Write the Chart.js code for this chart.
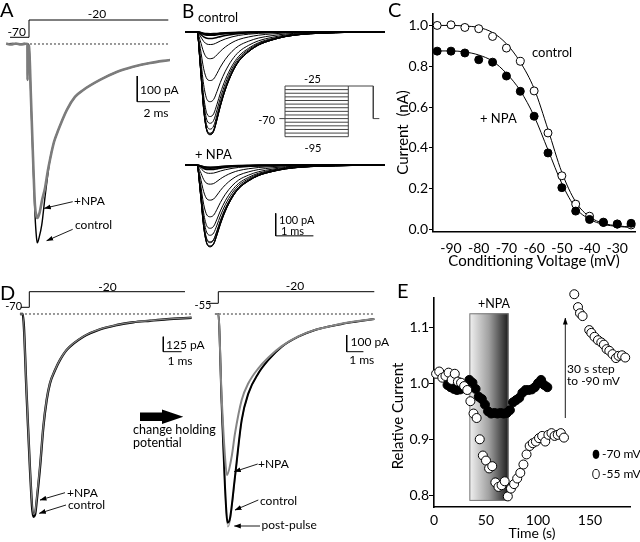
<!DOCTYPE html>
<html><head><meta charset="utf-8">
<script src="https://cdn.jsdelivr.net/npm/chart.js@4.4.1/dist/chart.umd.min.js"></script>
<style>
html,body{margin:0;padding:0;background:#fff;}
#wrap{position:relative;width:640px;height:542px;overflow:hidden;background:#fff;}
#wrap canvas{position:absolute;}
#ann{position:absolute;left:0;top:0;pointer-events:none;}
</style></head><body><div id="wrap"></div>
<script>
const FONT = "Lato, 'Open Sans', sans-serif";

// ---------- Panel A : single current traces (ms, pA) ----------
const A_CTRL_T = [-1.35,-1.0,-0.6,-0.3,-0.06,0,0.12,0.245,0.367,0.46,0.51,0.61,0.78,0.98,1.28,1.53,1.79,2.31,2.81,3.32,4.34,5.36,6.36,7.40,8.62];
const A_CTRL_I = [0,2,-1,2,0,-8,-218,-451,-665,-755,-774,-755,-704,-595,-451,-381,-335,-257,-206,-179,-140,-109,-89,-74,-62];
const A_NPA_T = [-1.4,-1.1,-0.8,-0.5,-0.2,-0.1,-0.09,-0.08,0,0.12,0.245,0.367,0.46,0.51,0.64,0.80,0.98,1.16,1.28,1.53,1.79,2.31,2.81,3.32,4.34,5.36,6.36,7.40,8.62];
const A_NPA_I = [2,-2,2,-2,1,0,-140,-5,-8,-210,-440,-630,-670,-677,-658,-607,-560,-490,-451,-381,-335,-257,-206,-179,-140,-109,-89,-74,-62];
const A_PROTO_T = [-1.16,0,0,8.52];
const A_PROTO_V = [-70,-70,-20,-20];

// ---------- Panel B : trace families (ms, pA) ----------
const B_T = [-0.32,0,0.088,0.177,0.265,0.354,0.442,0.531,0.619,0.752,0.929,1.106,1.372,1.637,1.991,2.345,2.788,3.23,3.673,4.469,4.99];
const B_SHAPE = [0,0,0.339,0.758,0.968,1.0,0.968,0.855,0.726,0.565,0.403,0.29,0.194,0.129,0.081,0.048,0.026,0.016,0.01,0.003,0];
const B_CTRL_PEAK = [458,457,453,451,433,407,377,311,217,120,57,30,16,12,9];
const B_NPA_PEAK = [363,363,359,345,341,312,281,230,156,85,37,20,14,11,10];
const B_COND_V = [-95,-90,-85,-80,-75,-70,-65,-60,-55,-50,-45,-40,-35,-30,-25];
const B_HOLD_V = -70, B_TEST_V = -25;
const B_PROTO_T = [-2.7,0,30,41.85,44.7];

// ---------- Panel C : inactivation curves ----------
const C_V = [-95,-90,-85,-80,-75,-70,-65,-60,-55,-50,-45,-40,-35,-30,-25];
const C_CTRL = [1.0,1.003,0.99,0.984,0.946,0.889,0.824,0.679,0.473,0.263,0.124,0.065,0.036,0.027,0.022];
const C_NPA = [0.874,0.874,0.865,0.832,0.82,0.752,0.677,0.555,0.375,0.205,0.09,0.049,0.034,0.026,0.03];
const C_CTRL_FIT = [1.0,1.0,0.997,0.99,0.965,0.91,0.82,0.69,0.49,0.28,0.135,0.062,0.03,0.018,0.012];
const C_NPA_FIT = [0.875,0.875,0.87,0.855,0.825,0.765,0.68,0.555,0.39,0.225,0.105,0.05,0.025,0.015,0.01];
const C_XTICKS = [-90,-80,-70,-60,-50,-40,-30];
const C_YTICKS = [0,0.2,0.4,0.6,0.8,1.0];

// ---------- Panel D : holding potential traces (ms, pA) ----------
const D1_T = [-0.15,0,0.22,0.40,0.58,0.67,0.77,0.95,1.13,1.31,1.49,1.77,2.04,2.40,3.31,4.22,5.14,6.04,6.96,7.87,9.23];
const D1_CTRL = [0,0,-689,-1300,-1689,-1675,-1550,-1272,-939,-717,-578,-467,-383,-300,-189,-128,-92,-69,-56,-44,-31];
const D1_NPA = [0,0,-680,-1290,-1670,-1655,-1530,-1255,-930,-712,-575,-465,-380,-298,-187,-127,-91,-68,-55,-43,-30];
const D1_PROTO_T = [-0.109,0.361,0.361,8.869];
const D1_PROTO_V = [-70,-70,-20,-20];
const D2_T = [-0.2,0,0.2,0.4,0.56,0.7,1.0,1.4,1.8,2.4,3.0,3.8,4.79,5.79,6.79,7.78,9.34];
const D2_CTRL = [0,0,-535,-1034,-1250,-1224,-974,-635,-475,-355,-275,-196,-136,-96,-72,-52,-30];
const D2_POST = [0,0,-540,-1045,-1274,-1240,-985,-640,-478,-357,-276,-197,-136,-96,-72,-52,-30];
const D2_NPA_T = [-0.2,0,0.2,0.4,0.52,0.8,1.0,1.4,1.8,2.4,3.0,3.8,4.79,5.79,6.79,7.78,9.34];
const D2_NPA = [0,0,-495,-854,-964,-854,-715,-515,-415,-325,-260,-192,-134,-95,-71,-51,-30];
const D2_PROTO_T = [-0.599,0,0,9.341];
const D2_PROTO_V = [-55,-55,-20,-20];

// ---------- Panel E : time course ----------
const E_M55_T = [2,5,8,11,14,17,20,23,26,29,32,35,38,41,44,47,50,53,56,59,62,65,68,71,74,77,80,83,86,89,92,95,98,101,104,107,110,113,116,119,122,125,
  134.9,138.5,140.4,142.9,149.3,151.3,154.4,157.7,160.9,163.4,166,168.6,171.7,175,177.5,180.8,183.9];
const E_M55_V = [1.017,1.021,1.010,1.013,1.019,1.006,1.017,1.003,1.001,0.995,0.988,0.968,0.946,0.938,0.900,0.871,0.862,0.848,0.852,0.823,0.815,0.818,0.825,0.798,0.812,0.820,0.830,0.840,0.855,0.873,0.888,0.893,0.896,0.902,0.906,0.896,0.908,0.911,0.906,0.908,0.911,0.903,
  1.159,1.136,1.125,1.120,1.095,1.090,1.083,1.077,1.073,1.069,1.061,1.058,1.052,1.045,1.049,1.050,1.046];
const E_M70_T = [13,16,19,22,25,28,31,34,37,40,43,46,49,52,55,58,61,64,67,70,73,76,79,82,85,88,91,94,97,100,103,106,109];
const E_M70_V = [0.997,0.993,0.990,0.988,0.989,0.991,0.996,1.006,1.001,0.990,0.976,0.972,0.962,0.950,0.946,0.947,0.946,0.947,0.946,0.947,0.952,0.966,0.970,0.974,0.983,0.988,0.988,0.989,0.993,1.000,1.006,0.997,0.993];
const E_NPA_START = 34, E_NPA_END = 71.7, E_NPA_TOP = 1.125, E_NPA_BOTTOM = 0.79;
const E_XTICKS = [0,50,100,150];
const E_YTICKS = [0.8,0.9,1.0,1.1];

// ---------- helpers ----------
Chart.defaults.font.family = FONT;
Chart.defaults.color = '#000';
const wrap = document.getElementById('wrap');
function mk(left, top, w, h){
  const c = document.createElement('canvas');
  c.width = w; c.height = h;
  c.style.left = left+'px'; c.style.top = top+'px';
  c.style.width = w+'px'; c.style.height = h+'px';
  wrap.appendChild(c);
  return c;
}
function pts(xs, ys){ return xs.map((x,i)=>({x:x, y:ys[i]})); }
function line(data, color, width, extra){
  return Object.assign({data:data, borderColor:color, borderWidth:width, pointRadius:0, fill:false,
    cubicInterpolationMode:'monotone', clip:false}, extra||{});
}
function hidden(box, xr, ys, datasets){
  const scales = {x:{type:'linear', display:false, min:xr[0], max:xr[1]}};
  for (const k in ys) scales[k] = {type:'linear', display:false, min:ys[k][0], max:ys[k][1]};
  return new Chart(mk(box[0],box[1],box[2],box[3]), {type:'line', data:{datasets:datasets},
    options:{animation:false, responsive:false, devicePixelRatio:1, layout:{padding:0},
      plugins:{legend:{display:false}, tooltip:{enabled:false}}, scales:scales}});
}
const DOT = {borderDash:[2,2]};
const SP = '\u00a0';

// ---------- Panel A ----------
hidden([0,0,185,260], [-1.774,9.541], {y:[-840.5,171.2], yv:[-713.6,37.8]}, [
  line(pts(A_NPA_T, A_NPA_I), '#7c7c7c', 2.6, {order:1}),
  line(pts(A_CTRL_T, A_CTRL_I), '#000', 1.4, {order:2}),
  line(pts([0.06,8.62],[0,0]), '#333', 1, Object.assign({order:3}, DOT)),
  line(pts([6.62,6.62,8.62],[-124.5,-224.5,-224.5]), '#000', 1, {cubicInterpolationMode:'default', tension:0}),
  line(pts(A_PROTO_T, A_PROTO_V), '#000', 1, {yAxisID:'yv', cubicInterpolationMode:'default', tension:0})
]);

// ---------- Panel B ----------
const bCtrl = B_CTRL_PEAK.map((p,i) => line(pts(B_T, B_SHAPE.map(s => -s*p)), '#000', i > 10 ? 1.6 : 1));
hidden([185,20,200,130], [-0.318,4.987], {y:[-525.8,52]}, bCtrl);
const bNpa = B_NPA_PEAK.map((p,i) => line(pts(B_T, B_SHAPE.map(s => -s*p)), '#000', i > 10 ? 1.6 : 1));
bNpa.push(line(pts([2.088,2.088,3.088],[-214.7,-314.7,-314.7]), '#000', 1, {cubicInterpolationMode:'default'}));
hidden([185,150,200,110], [-0.318,4.987], {y:[-422,66.7]}, bNpa);
// protocol inset
const inset = B_COND_V.map(v => line(pts([B_PROTO_T[1],B_PROTO_T[2]],[v,v]), '#444', 1, {cubicInterpolationMode:'default'}));
const vMin = Math.min(...B_COND_V), vMax = Math.max(...B_COND_V);
inset.push(line(pts([B_PROTO_T[1],B_PROTO_T[1]],[vMin,vMax]), '#444', 1, {cubicInterpolationMode:'default'}));
inset.push(line(pts([B_PROTO_T[2],B_PROTO_T[2]],[vMin,vMax]), '#444', 1, {cubicInterpolationMode:'default'}));
inset.push(line(pts([B_PROTO_T[0],B_PROTO_T[1]],[B_HOLD_V,B_HOLD_V]), '#444', 1, {cubicInterpolationMode:'default'}));
inset.push(line(pts([B_PROTO_T[2],B_PROTO_T[3],B_PROTO_T[3],B_PROTO_T[4]],[B_TEST_V,B_TEST_V,B_HOLD_V,B_HOLD_V]), '#444', 1, {cubicInterpolationMode:'default'}));
hidden([265,70,120,80], [-9.479,47.39], {y:[-113.36,-2.91]}, inset);

// ---------- Panel C ----------
new Chart(mk(360,0,280,270), {
  type:'line',
  data:{datasets:[
    line(pts(C_V, C_CTRL_FIT), '#000', 1, {order:4}),
    line(pts(C_V, C_NPA_FIT), '#000', 1, {order:3}),
    {data:pts(C_V, C_CTRL), showLine:false, pointRadius:4, pointBackgroundColor:'#fff', pointBorderColor:'#000', pointBorderWidth:1, order:2, clip:false},
    {data:pts(C_V, C_NPA), showLine:false, pointRadius:4, pointBackgroundColor:'#000', pointBorderColor:'#000', pointBorderWidth:1, order:1, clip:false}
  ]},
  options:{animation:false, responsive:false, devicePixelRatio:1,
    layout:{padding:{top:14,left:0,right:0,bottom:0}},
    plugins:{legend:{display:false}, tooltip:{enabled:false}},
    scales:{
      x:{type:'linear', min:-96.5, max:-23.6,
        afterBuildTicks:s=>{s.ticks = C_XTICKS.map(v=>({value:v}));},
        afterFit:s=>{s.height = 38.3;},
        grid:{display:false, drawTicks:false}, border:{color:'#000', width:1.6},
        ticks:{font:{size:14}, padding:8, maxRotation:0},
        title:{display:true, text:'Conditioning Voltage (mV)', font:{size:15}, padding:{top:0,bottom:0}}},
      y:{type:'linear', min:-0.011, max:1.056,
        afterBuildTicks:s=>{s.ticks = C_YTICKS.map(v=>({value:v}));},
        afterFit:s=>{s.width = 73;},
        grid:{drawOnChartArea:false, tickLength:4, color:'#000'}, border:{color:'#000', width:1.6},
        ticks:{font:{size:14}, padding:1, callback:v=>v.toFixed(1)},
        title:{display:true, text:'Current' + SP + SP + '(nA)' + SP.repeat(5), font:{size:15}, padding:{top:34,bottom:0}}}
    }}
});

// ---------- Panel D ----------
hidden([0,280,200,262], [-1.240,9.689], {y:[-1900,283.3], yv:[-822.2,17.5]}, [
  line(pts(D1_T, D1_NPA), '#808080', 1.3, {order:1}),
  line(pts(D1_T, D1_CTRL), '#000', 2.4, {order:2}),
  line(pts([-0.093,9.235],[0,0]), '#333', 1, Object.assign({order:3}, DOT)),
  line(pts([7.683,7.683,8.683],[-189.2,-314.2,-314.2]), '#000', 1, {cubicInterpolationMode:'default'}),
  line(pts(D1_PROTO_T, D1_PROTO_V), '#000', 1, {yAxisID:'yv', cubicInterpolationMode:'default'})
]);
hidden([200,280,185,262], [-1.096,9.982], {y:[-1365.3,203.6], yv:[-775.3,15.3]}, [
  line(pts(D2_NPA_T, D2_NPA), '#858585', 2, {order:1}),
  line(pts(D2_T, D2_CTRL), '#000', 2, {order:2}),
  line(pts(D2_T, D2_POST), '#9a9a9a', 1.3, {order:3}),
  line(pts([-0.2,9.34],[0,0]), '#333', 1, Object.assign({order:4}, DOT)),
  line(pts([7.689,7.689,8.689],[-125.7,-225.7,-225.7]), '#000', 1, {cubicInterpolationMode:'default'}),
  line(pts(D2_PROTO_T, D2_PROTO_V), '#000', 1, {yAxisID:'yv', cubicInterpolationMode:'default'})
]);

// ---------- Panel E ----------
const npaBox = {id:'npaBox', beforeDatasetsDraw(chart){
  const {ctx, scales:{x, y}} = chart;
  const x0 = x.getPixelForValue(E_NPA_START), x1 = x.getPixelForValue(E_NPA_END);
  const y0 = y.getPixelForValue(E_NPA_TOP), y1 = y.getPixelForValue(E_NPA_BOTTOM);
  const g = ctx.createLinearGradient(x0,0,x1,0);
  g.addColorStop(0,'#f2f2f2'); g.addColorStop(0.5,'#a0a0a0'); g.addColorStop(1,'#1c1c1c');
  ctx.save(); ctx.fillStyle = g; ctx.fillRect(x0,y0,x1-x0,y1-y0);
  ctx.strokeStyle = '#777'; ctx.lineWidth = 1; ctx.strokeRect(x0+0.5,y0+0.5,x1-x0-1,y1-y0-1); ctx.restore();
}};
new Chart(mk(380,275,260,267), {
  type:'line',
  data:{datasets:[
    {data:pts(E_M55_T, E_M55_V), showLine:false, pointRadius:4.5, pointBackgroundColor:'#fff', pointBorderColor:'#000', pointBorderWidth:1, order:1, clip:false},
    {data:pts(E_M70_T, E_M70_V), showLine:false, pointRadius:4.5, pointBackgroundColor:'#000', pointBorderColor:'#000', pointBorderWidth:1, order:2, clip:false}
  ]},
  plugins:[npaBox],
  options:{animation:false, responsive:false, devicePixelRatio:1,
    layout:{padding:{top:23,left:0,right:10,bottom:0}},
    plugins:{legend:{display:false}, tooltip:{enabled:false}},
    scales:{
      x:{type:'linear', min:0, max:188.5,
        afterBuildTicks:s=>{s.ticks = E_XTICKS.map(v=>({value:v}));},
        afterFit:s=>{s.height = 35;},
        grid:{display:false, drawTicks:false}, border:{color:'#000', width:1.6},
        ticks:{font:{size:14}, padding:5, maxRotation:0},
        title:{display:true, text:'Time (s)', font:{size:14}, padding:{top:0,bottom:0}}},
      y:{type:'linear', min:0.7791, max:1.1523,
        afterBuildTicks:s=>{s.ticks = E_YTICKS.map(v=>({value:v}));},
        afterFit:s=>{s.width = 54;},
        grid:{drawOnChartArea:false, tickLength:5, color:'#000'}, border:{color:'#000', width:1.6},
        ticks:{font:{size:14}, padding:0, callback:v=>v.toFixed(1)},
        title:{display:true, text:'Relative Current' + SP.repeat(7), font:{size:15}, padding:{top:9,bottom:0}}}
    }}
});

// ---------- annotation layer (real text) ----------
const TEXTS = [
  ['A',0,17,20,'start'],['-70',16.7,36,12,'middle'],['-20',97,17.5,12,'middle'],
  ['100 pA',140,94,12,'start'],['2 ms',156,116.5,12,'middle'],['+NPA',74,204.5,12,'start'],['control',75,229,12,'start'],
  ['B',182,18,19,'start'],['control',198,21.5,13,'start'],['+ NPA',195,159,13,'start'],
  ['-25',312.5,83,11,'middle'],['-95',313,152,11,'middle'],['-70',266.7,124,11,'middle'],
  ['100 pA',279,224,11,'start'],['1 ms',292.5,234.5,11,'middle'],
  ['C',388,17,20,'start'],['control',532,57,13,'start'],['+ NPA',480,122.5,13,'start'],
  ['D',0,300,20,'start'],['-70',13.7,309.5,11,'middle'],['-20',107.5,290.5,12,'middle'],
  ['125 pA',166,349,12,'start'],['1 ms',180,364.8,12,'middle'],
  ['change holding',133,434,12.5,'start'],['potential',133,447,12.5,'start'],
  ['+NPA',67,496.5,12,'start'],['control',68,508.5,12,'start'],
  ['-55',203,309,11,'middle'],['-20',295,289.5,12,'middle'],
  ['100 pA',350.5,346,12,'start'],['1 ms',361.7,364,12,'middle'],
  ['+NPA',258,468,12,'start'],['control',260,505,12,'start'],['post-pulse',261.5,529,12,'start'],
  ['E',397,298,20,'start'],['+NPA',494,308,12.5,'middle'],
  ['30 s step',567,373,12,'start'],['to -90 mV',567,385,12,'start'],
  ['-70 mV',602,458,12,'start'],['-55 mV',602,478,12,'start']
];
const ARROWS = [
  [72.7,201.7,44.3,208.3],[72.7,229.3,46.7,240.7],
  [65,492.7,40,500],[66,505,39.3,513.3],
  [257.7,464,234.3,471.7],[258.3,500,235,510],[260,526,234.3,526],
  [565.3,418,565.3,318]
];
const NS = 'http://www.w3.org/2000/svg';
const svg = document.createElementNS(NS,'svg');
svg.setAttribute('id','ann'); svg.setAttribute('width','640'); svg.setAttribute('height','542');
let defs = '<defs><marker id="ah" markerWidth="7" markerHeight="6" refX="6.5" refY="3" orient="auto" markerUnits="userSpaceOnUse"><path d="M0,0.6 L7,3 L0,5.4 z" fill="#000"/></marker></defs>';
let body = '';
for (const [x1,y1,x2,y2] of ARROWS) body += `<line x1="${x1}" y1="${y1}" x2="${x2}" y2="${y2}" stroke="#000" stroke-width="0.9" marker-end="url(#ah)"/>`;
body += '<polygon points="140,412.5 162,412.5 162,409.5 183.3,416.8 162,424 162,421 140,421" fill="#000"/>';
body += '<ellipse cx="596" cy="454.3" rx="3.3" ry="4.6" fill="#000"/>';
body += '<ellipse cx="596" cy="474" rx="3.3" ry="4.6" fill="#fff" stroke="#000" stroke-width="0.9"/>';
for (const [t,x,y,s,a] of TEXTS) body += `<text x="${x}" y="${y}" font-size="${s}" text-anchor="${a}" font-family="${FONT.replace(/'/g,'')}" fill="#000">${t}</text>`;
svg.innerHTML = defs + body;
wrap.appendChild(svg);
</script></body></html>
